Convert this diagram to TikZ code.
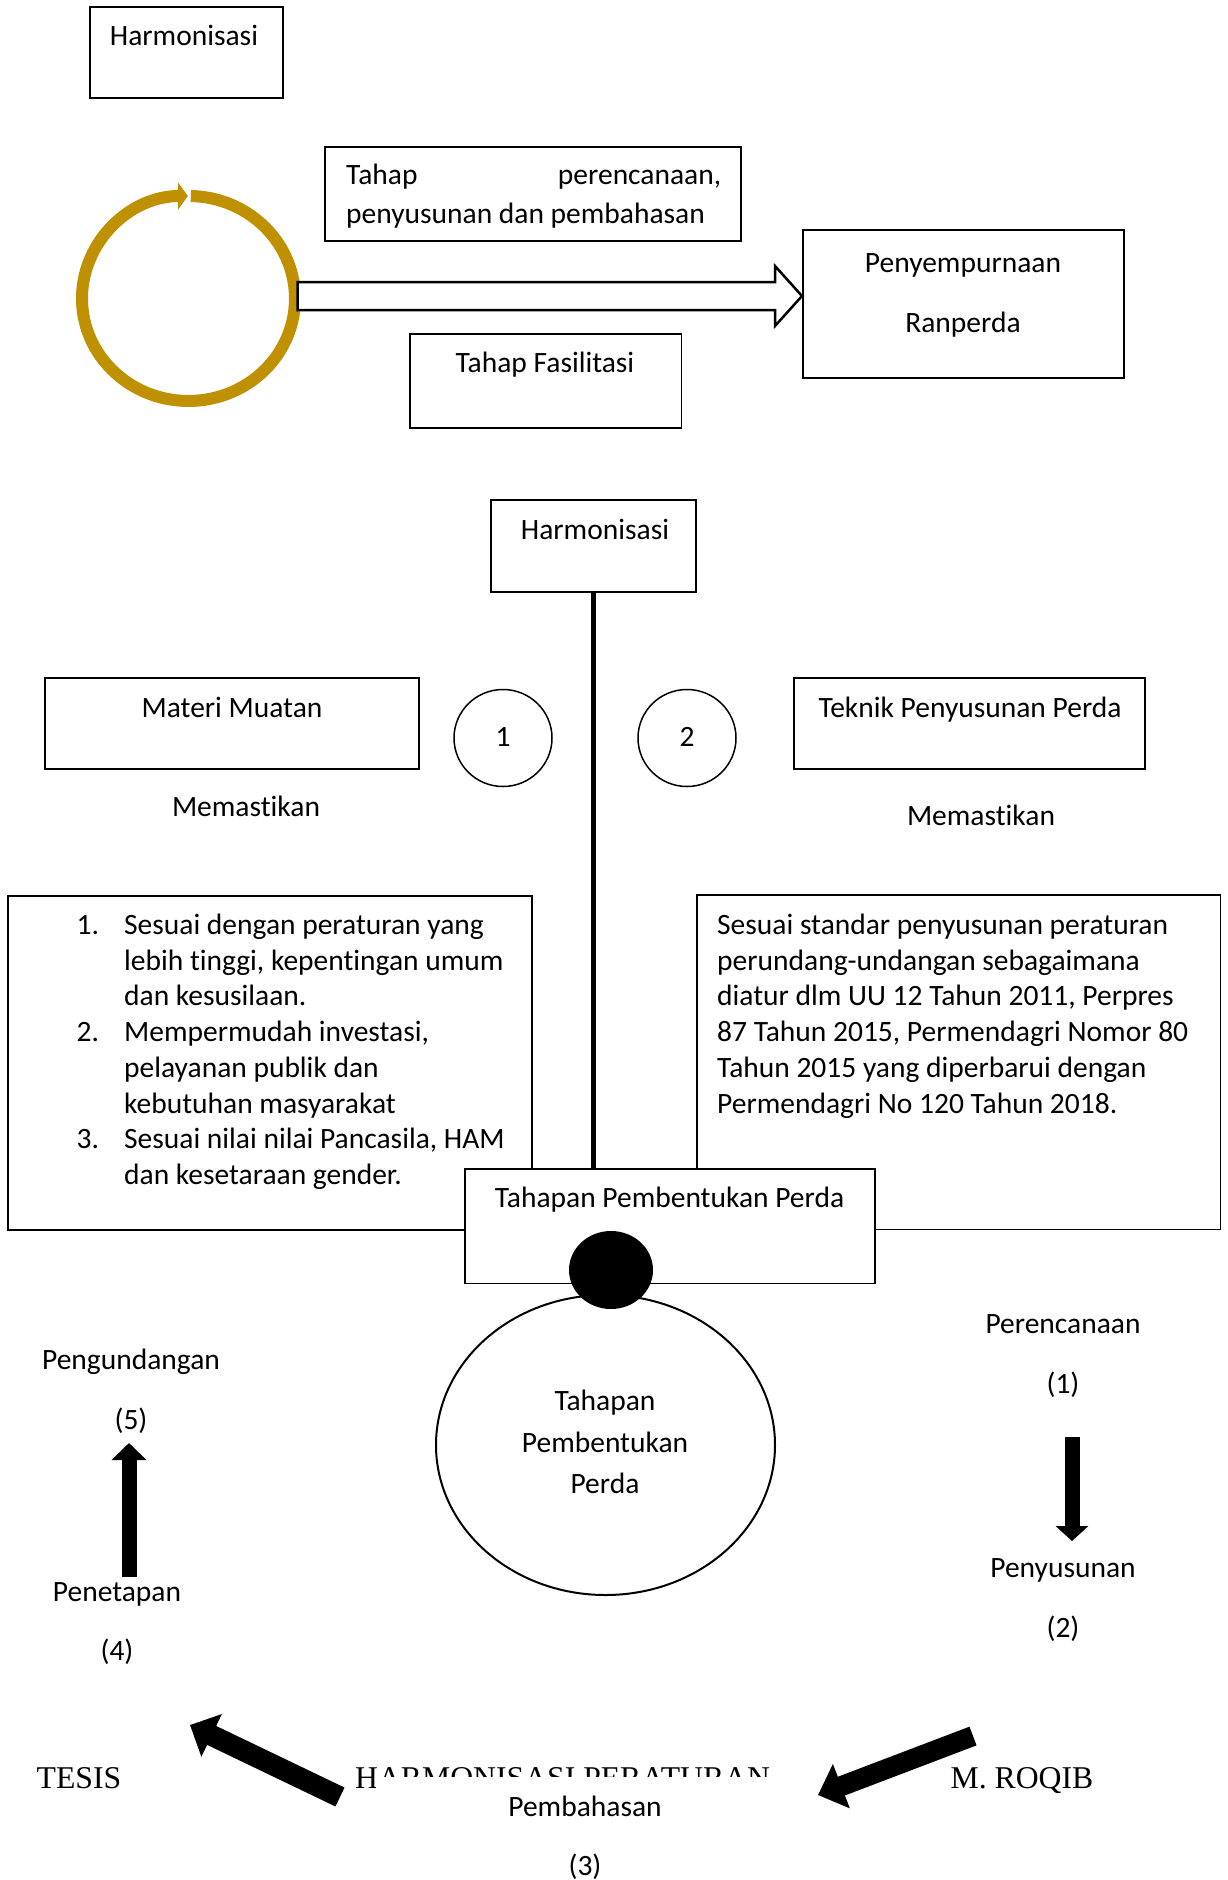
\documentclass[tikz,border=0pt]{standalone}
\usepackage{fontspec}
\setmainfont{Carlito}[Ligatures=NoCommon]
\newfontfamily\timesfont{Liberation Serif}
\usetikzlibrary{arrows.meta,shapes.geometric}
\definecolor{ringgold}{RGB}{191,144,0}
\begin{document}
\begin{tikzpicture}[x=1pt,y=-1pt,
  box/.style={draw=black,line width=1.8pt,inner sep=0pt,outer sep=0pt},
  txt/.style={font=\fontsize{29.5}{35.7}\selectfont,inner sep=0pt,anchor=base},
  ttxt/.style={font=\timesfont\fontsize{31.7}{38}\selectfont,inner sep=0pt,anchor=base},
  thinell/.style={draw=black,ellipse,line width=1.5pt,inner sep=0pt},
]
\useasboundingbox[fill=white] (0,0) rectangle (1227,1880);

% ---------- top part ----------
\node[box,minimum width=193pt,minimum height=91pt] (harm1) at (186.5,52.5) {};
\node[txt] (harm1t) at (184,45) {Harmonisasi};

\node[box,minimum width=416pt,minimum height=94pt] (plan) at (533,194) {};
\node[txt,anchor=base west] (plan1) at (346,184) {\makebox[375pt][s]{Tahap\hfill perencanaan,}};
\node[txt,anchor=base west] (plan2) at (346,223) {penyusunan dan pembahasan};

\node[box,minimum width=271.5pt,minimum height=94pt] (fasil) at (545.75,381) {};
\node[txt] (fasilt) at (545,372) {Tahap Fasilitasi};

\node[box,line width=2.6pt,minimum width=321pt,minimum height=148pt] (penyemp) at (963.5,304) {};
\node[txt] (penyemp1) at (963,272) {Penyempurnaan};
\node[txt] (penyemp2) at (963,332) {Ranperda};

% ring with arrow
\coordinate (ringstart) at (190.9,196.0);
\draw[ringgold,line width=12pt,-{Triangle[length=10pt,width=27pt]}]
  (ringstart) arc[start angle=-88.7,end angle=269.7,x radius=106.5,y radius=102.5];

% block arrow
\coordinate (bl) at (297.5,282);
\draw[line width=2.5pt,fill=white,line join=miter]
  (bl) -- (775,282) -- (775,266) -- (802,296) -- (775,326) -- (775,310) -- (297.5,310) -- cycle;

% ---------- middle part ----------
\node[box,minimum width=205pt,minimum height=92pt] (harm2) at (593.5,546) {};
\node[txt] (harm2t) at (595,539) {Harmonisasi};

\node[box,minimum width=374pt,minimum height=91pt] (materi) at (232,723.5) {};
\node[txt] (materit) at (232,717) {Materi Muatan};

\node[box,minimum width=351pt,minimum height=91pt] (teknik) at (969.5,723.5) {};
\node[txt] (teknikt) at (970,717) {Teknik Penyusunan Perda};

\node[thinell,minimum width=98pt,minimum height=97pt] (c1) at (503,738) {};
\node[txt] (c1t) at (503,746) {1};
\node[thinell,minimum width=98pt,minimum height=97pt] (c2) at (687,738) {};
\node[txt] (c2t) at (687,746) {2};

\node[txt] (mem1) at (246,816) {Memastikan};
\node[txt] (mem2) at (981,825) {Memastikan};

\node[box,minimum width=524pt,minimum height=334pt] (leftlist) at (270,1063) {};
\node[box,minimum width=523.5pt,minimum height=334.5pt] (rightlist) at (958.75,1062.25) {};

\node[txt,anchor=base west] (leftlistt) at (76.5,934.5) {\begin{tabular}[t]{@{}l@{}}
\makebox[47.5pt][l]{1.}Sesuai dengan peraturan yang\\
\hspace*{47.5pt}lebih tinggi, kepentingan umum\\
\hspace*{47.5pt}dan kesusilaan.\\
\makebox[47.5pt][l]{2.}Mempermudah investasi,\\
\hspace*{47.5pt}pelayanan publik dan\\
\hspace*{47.5pt}kebutuhan masyarakat\\
\makebox[47.5pt][l]{3.}Sesuai nilai nilai Pancasila, HAM\\
\hspace*{47.5pt}dan kesetaraan gender.
\end{tabular}};

\node[txt,anchor=base west] (rightlistt) at (717,934.5) {\begin{tabular}[t]{@{}l@{}}
Sesuai standar penyusunan peraturan\\
perundang-undangan sebagaimana\\
diatur dlm UU 12 Tahun 2011, Perpres\\
87 Tahun 2015, Permendagri Nomor 80\\
Tahun 2015 yang diperbarui dengan\\
Permendagri No 120 Tahun 2018.
\end{tabular}};

\node[box,fill=white,minimum width=410pt,minimum height=114.5pt] (tahapbox) at (670,1226.25) {};
\node[txt] (tahapboxt) at (669.5,1207) {Tahapan Pembentukan Perda};

\draw[line width=5.5pt] (harm2.south) -- (tahapbox.north -| harm2.south);

% ---------- lower part ----------
\node[draw=black,ellipse,line width=2pt,inner sep=0pt,minimum width=339pt,minimum height=300pt] (bigell) at (605.5,1445) {};
\node[fill=black,ellipse,inner sep=0pt,minimum width=84pt,minimum height=78pt] (dot) at (611,1270) {};

\node[txt] (ell1) at (605,1410) {Tahapan};
\node[txt] (ell2) at (605,1452) {Pembentukan};
\node[txt] (ell3) at (605,1493) {Perda};

\node[txt] (perenc) at (1063,1333) {Perencanaan};
\node[txt] (n1) at (1063,1393) {(1)};
\node[txt] (penyus) at (1063,1577) {Penyusunan};
\node[txt] (n2) at (1063,1637) {(2)};

\node[txt] (pengund) at (131,1369) {Pengundangan};
\node[txt] (n5) at (131,1429) {(5)};
\node[txt] (penet) at (117,1601) {Penetapan};
\node[txt] (n4) at (117,1660) {(4)};

\coordinate (dA) at (1072,1437);
\coordinate (dB) at (1072,1541);
\draw[line width=15pt,-{Triangle[length=15pt,width=32pt]}] (dA) -- (dB);

\coordinate (uA) at (129,1577);
\coordinate (uB) at (129,1443);
\draw[line width=15pt,-{Triangle[length=17pt,width=34pt]}] (uA) -- (uB);

% bottom header-like texts
\node[ttxt] (tesis) at (79,1788) {TESIS};
\node[ttxt,anchor=base west] (harmper) at (355,1788) {HARMONISASI PERATURAN};
\node[ttxt] (roqib) at (1022,1788) {M. ROQIB};

\fill[white] (376,1777) rectangle (800,1880);
\node[txt] (pembah) at (585,1816) {Pembahasan};
\node[txt] (n3) at (585,1875) {(3)};

\coordinate (lA) at (340,1797);
\coordinate (lB) at (190,1725);
\draw[line width=21pt,-{Triangle[length=24pt,width=46pt]}] (lA) -- (lB);

\coordinate (rA) at (973,1736);
\coordinate (rB) at (818,1795);
\draw[line width=20pt,-{Triangle[length=25pt,width=46pt]}] (rA) -- (rB);
\end{tikzpicture}
\end{document}
